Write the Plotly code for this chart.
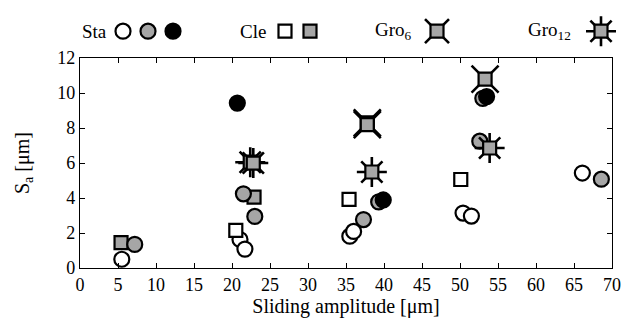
import plotly.graph_objects as go

# ---- data ----
sta_open_x = [5.5, 21.05, 21.7, 35.5, 36.0, 50.4, 51.5, 66.1]
sta_open_y = [0.5, 1.63, 1.08, 1.82, 2.09, 3.14, 2.97, 5.43]
sta_grey_x = [7.2, 21.5, 23.0, 37.3, 39.3, 52.6, 53.0, 68.6]
sta_grey_y = [1.35, 4.24, 2.95, 2.77, 3.78, 7.25, 9.7, 5.08]
sta_black_x = [20.7, 39.9, 53.5]
sta_black_y = [9.43, 3.89, 9.8]
cle_open_x = [20.5, 35.4, 50.1]
cle_open_y = [2.15, 3.92, 5.06]
cle_grey_x = [5.4, 22.9]
cle_grey_y = [1.45, 4.05]
gro6_x = [37.8, 37.8, 53.3]
gro6_y = [8.3, 8.2, 10.8]
gro12_x = [22.4, 22.8, 38.4, 53.9]
gro12_y = [6.05, 6.0, 5.49, 6.86]

x_ticks = list(range(0, 71, 5))
y_ticks = list(range(0, 13, 2))

GREY = "#a6a6a6"
FONT = "Liberation Serif"
LW = 2.2

# legend layout (pixel-like units on a hidden overlay axis)
leg_y = 22
leg_labels = ["Sta", "Cle", "Gro<sub>6</sub>", "Gro<sub>12</sub>"]
leg_label_x = [80, 238, 373, 526]
leg_circle_x = [123, 148, 173]
leg_square_x = [285, 310]
leg_gro6_x = [437]
leg_gro12_x = [601]

fig = go.Figure()


def circ(x, y, fill, xa="x", ya="y", size=15):
    return go.Scatter(x=x, y=y, mode="markers", xaxis=xa, yaxis=ya, cliponaxis=False,
                      marker=dict(symbol="circle", size=size, color=fill,
                                  line=dict(color="black", width=LW)), showlegend=False,
                      hoverinfo="skip")


def sq(x, y, fill, xa="x", ya="y", size=13):
    return go.Scatter(x=x, y=y, mode="markers", xaxis=xa, yaxis=ya, cliponaxis=False,
                      marker=dict(symbol="square", size=size, color=fill,
                                  line=dict(color="black", width=LW)), showlegend=False,
                      hoverinfo="skip")


def gro(x, y, sym, size, xa="x", ya="y"):
    return [
        go.Scatter(x=x, y=y, mode="markers", xaxis=xa, yaxis=ya, cliponaxis=False,
                   marker=dict(symbol=sym, size=size, color="black",
                               line=dict(color="black", width=2.6)), showlegend=False,
                   hoverinfo="skip"),
        go.Scatter(x=x, y=y, mode="markers", xaxis=xa, yaxis=ya, cliponaxis=False,
                   marker=dict(symbol="square", size=13, color=GREY,
                               line=dict(color="black", width=LW)), showlegend=False,
                   hoverinfo="skip"),
    ]


# main plot
fig.add_trace(sq(cle_grey_x, cle_grey_y, GREY))
fig.add_trace(circ(sta_open_x, sta_open_y, "white"))
fig.add_trace(circ(sta_grey_x, sta_grey_y, GREY))
fig.add_trace(sq(cle_open_x, cle_open_y, "white"))
fig.add_trace(circ(sta_black_x, sta_black_y, "black"))
for t in gro(gro6_x, gro6_y, "x-thin-open", 27):
    fig.add_trace(t)
for t in gro(gro12_x, gro12_y, "asterisk-open", 25):
    fig.add_trace(t)

# legend
fig.add_trace(circ(leg_circle_x, [leg_y] * 3, ["white", GREY, "black"], "x2", "y2"))
fig.add_trace(sq(leg_square_x, [leg_y] * 2, ["white", GREY], "x2", "y2"))
for t in gro(leg_gro6_x, [leg_y], "x-thin-open", 24, "x2", "y2"):
    fig.add_trace(t)
for t in gro(leg_gro12_x, [leg_y], "asterisk-open", 25, "x2", "y2"):
    fig.add_trace(t)

for lab, lx in zip(leg_labels, leg_label_x):
    fig.add_annotation(x=lx, y=leg_y, xref="x2", yref="y2", text=lab, showarrow=False,
                       xanchor="left", yanchor="middle", font=dict(family=FONT, size=19, color="black"))

W, H = 625, 324
ML, MR, MT, MB = 80, 13, 0, 56
plot_h = H - MT - MB
top_px = 50

axis_common = dict(showline=True, linecolor="black", linewidth=1.3, mirror="ticks",
                   ticks="inside", ticklen=5, tickwidth=1.2, tickcolor="black",
                   showgrid=False, zeroline=False,
                   tickfont=dict(family=FONT, size=18, color="black"))

fig.update_layout(
    width=W, height=H,
    margin=dict(l=ML, r=MR, t=MT, b=MB),
    paper_bgcolor="white", plot_bgcolor="white",
    xaxis=dict(range=[0, 70], tickvals=x_ticks, ticktext=[str(v) for v in x_ticks],
               title=dict(text="Sliding amplitude [μm]", standoff=4,
                          font=dict(family=FONT, size=20, color="black")),
               **axis_common),
    yaxis=dict(range=[0, 12], tickvals=y_ticks, ticktext=[str(v) for v in y_ticks],
               domain=[0, (plot_h - top_px) / plot_h],
               title=dict(text="S<sub>a</sub> [μm]", standoff=22,
                          font=dict(family=FONT, size=20, color="black")),
               **axis_common),
    xaxis2=dict(range=[ML, W - MR], domain=[0, 1], anchor="y2", visible=False),
    yaxis2=dict(range=[40, 0], domain=[1 - 40 / plot_h, 1], anchor="x2", visible=False),
)

fig.write_html("out.html")
